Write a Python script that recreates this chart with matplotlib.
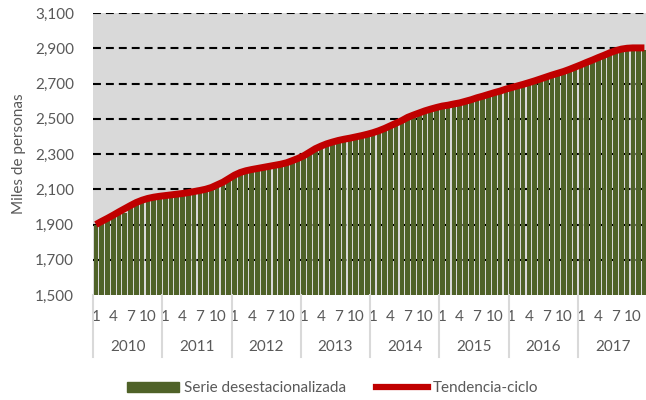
import numpy as np
import matplotlib; matplotlib.use('Agg')
import matplotlib.pyplot as plt
from matplotlib.lines import Line2D
from matplotlib.patches import Patch

years = [2010, 2011, 2012, 2013, 2014, 2015, 2016, 2017]
month_ticks = [1, 4, 7, 10]

# seasonally adjusted series (thousands of persons), Jan 2010 - Dec 2017
serie = [
    1895, 1905, 1922, 1940, 1958, 1965, 1998, 2015, 2030, 2040, 2048, 2052,
    2056, 2060, 2063, 2068, 2072, 2078, 2084, 2090, 2098, 2112, 2130, 2150,
    2170, 2186, 2195, 2200, 2208, 2212, 2218, 2224, 2230, 2238, 2250, 2262,
    2280, 2300, 2318, 2334, 2346, 2356, 2365, 2372, 2378, 2386, 2393, 2400,
    2410, 2420, 2434, 2448, 2463, 2478, 2495, 2510, 2522, 2534, 2544, 2552,
    2560, 2566, 2572, 2578, 2588, 2596, 2606, 2616, 2626, 2636, 2645, 2655,
    2664, 2674, 2683, 2693, 2703, 2714, 2724, 2735, 2745, 2756, 2768, 2781,
    2794, 2808, 2821, 2835, 2848, 2862, 2875, 2884, 2890, 2891, 2890, 2890,
]

# trend-cycle
tendencia = [
    1900, 1918, 1935, 1953, 1972, 1990, 2008, 2025, 2038, 2048, 2055, 2060,
    2064, 2068, 2072, 2076, 2081, 2087, 2093, 2100, 2110, 2125, 2140, 2160,
    2180, 2195, 2205, 2212, 2218, 2224, 2230, 2236, 2242, 2250, 2262, 2275,
    2290, 2310, 2330, 2345, 2358, 2368, 2377, 2384, 2390, 2397, 2404, 2412,
    2421, 2432, 2445, 2460, 2475, 2490, 2508, 2521, 2533, 2545, 2555, 2564,
    2572, 2577, 2584, 2590, 2599, 2608, 2619, 2628, 2638, 2648, 2657, 2668,
    2677, 2686, 2695, 2705, 2715, 2726, 2737, 2748, 2758, 2768, 2780, 2793,
    2806, 2820, 2833, 2847, 2860, 2874, 2886, 2895, 2900, 2902, 2902, 2902,
]

plt.rcParams['font.family'] = ['Lato', 'DejaVu Sans']
txt = '#595959'
fs = 11

fig = plt.figure(figsize=(6.46, 4.0), dpi=100)
ax = fig.add_axes([0.144, 0.2625, 0.858, 0.705])
ax.set_facecolor('#D9D9D9')

x = np.arange(len(serie))
for v in np.arange(1700, 3101, 200):
    ax.axhline(v, color='black', lw=1.5, dashes=(3.8, 2.4), zorder=1)
ax.bar(x, serie, width=0.8, color='#4F6228', zorder=2)
ax.plot(x, tendencia, color='#C00000', lw=5, solid_capstyle='butt', zorder=3)

ax.set_xlim(-0.5, len(serie) - 0.5)
ax.set_ylim(1500, 3100)
ax.set_yticks(np.arange(1500, 3101, 200))
ax.set_yticklabels([f'{v:,}' for v in range(1500, 3101, 200)])
ax.tick_params(axis='y', length=0, pad=13.5, labelsize=fs, labelcolor=txt)
for s in ax.spines.values():
    s.set_visible(False)
ax.set_ylabel('Miles de personas', fontsize=fs, color=txt, labelpad=7)

# month labels and year labels
pos = [i * 12 + m - 1 for i in range(len(years)) for m in month_ticks]
ax.set_xticks(pos)
ax.set_xticklabels([str(m) for _ in years for m in month_ticks])
ax.tick_params(axis='x', length=0, pad=11, labelsize=fs, labelcolor=txt)

trans = ax.get_xaxis_transform()
for i, yr in enumerate(years):
    ax.text(i * 12 + 5.5, -0.184, str(yr), transform=trans, ha='center',
            va='center', fontsize=fs, color=txt)
for i in range(len(years) + 1):
    ax.add_line(Line2D([i * 12 - 0.5] * 2, [0, -0.22], transform=trans,
                       color='#D9D9D9', lw=1.5, clip_on=False))

handles = [Patch(color='#4F6228'), Line2D([], [], color='#C00000', lw=4.5)]
fig.legend(handles, ['Serie desestacionalizada', 'Tendencia-ciclo'],
           loc='center', bbox_to_anchor=(0.515, 0.03), ncol=2, frameon=False,
           fontsize=fs, handlelength=3.4, handleheight=0.65, handletextpad=0.3,
           columnspacing=2.0, labelcolor=txt)

fig.savefig('out.png', dpi=100)
